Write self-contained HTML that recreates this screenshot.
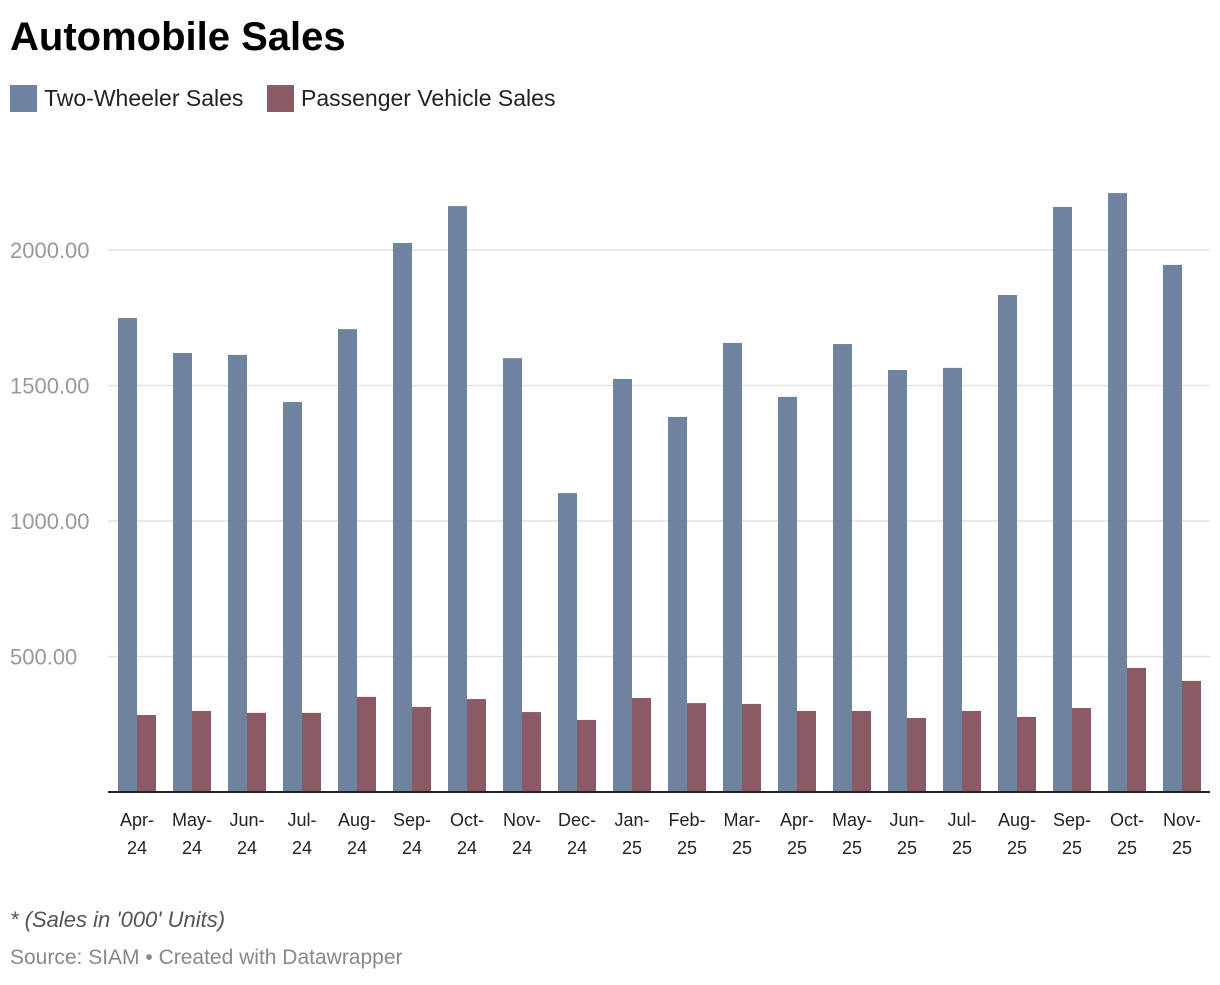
<!DOCTYPE html>
<html><head><meta charset="utf-8"><style>
body{margin:0;background:#fff;font-family:"Liberation Sans",sans-serif;}
svg text{font-family:"Liberation Sans",sans-serif;}
</style></head><body>
<svg width="1220" height="980">
<text x="10" y="50" font-size="40" font-weight="bold" fill="#000">Automobile Sales</text>
<g>
<rect x="10" y="85" width="27" height="27" fill="#6d83a0"/>
<text x="44" y="106" font-size="23" fill="#222">Two-Wheeler Sales</text>
<rect x="267" y="85" width="27" height="27" fill="#8b5a65"/>
<text x="301" y="106" font-size="23" fill="#222">Passenger Vehicle Sales</text>
</g>
<g id="grid"></g><g id="bars"></g><g id="xlab"></g>
<text x="10" y="927" font-size="22" font-style="italic" fill="#555">* (Sales in '000' Units)</text>
<text x="10" y="964" font-size="21" fill="#888">Source: SIAM • Created with Datawrapper</text>
</svg>
<script>
const categories=["Apr-24","May-24","Jun-24","Jul-24","Aug-24","Sep-24","Oct-24","Nov-24","Dec-24","Jan-25","Feb-25","Mar-25","Apr-25","May-25","Jun-25","Jul-25","Aug-25","Sep-25","Oct-25","Nov-25"];
const twoWheeler=[1749,1620,1613,1439,1708,2026,2162,1601,1103,1524,1384,1657,1458,1653,1557,1565,1834,2159,2210,1945];
const passenger=[284,299,292,292,351,314,343,295,266,347,328,325,299,299,273,299,277,310,458,410];
const yTicks=[500,1000,1500,2000];
const NS="http://www.w3.org/2000/svg";
const y0=792, pxPer=135.5/500;
function y(v){return y0-v*pxPer;}
function x(i){return 118+i*55;}
const grid=document.getElementById('grid'),bars=document.getElementById('bars'),xl=document.getElementById('xlab');
function mk(tag,attrs,parent){const e=document.createElementNS(NS,tag);for(const k in attrs)e.setAttribute(k,attrs[k]);parent.appendChild(e);return e;}
yTicks.forEach(t=>{
 const l=mk('line',{x1:108,x2:1210,y1:y(t),y2:y(t),stroke:'#e2e2e2','stroke-width':1.5},grid);
 
 
 const tx=mk('text',{x:10,y:y(t)+8,'font-size':22,fill:'#999'},grid);
 tx.textContent=t.toFixed(2);
 
 
});
categories.forEach((c,i)=>{
 const a=mk('rect',{x:x(i),y:y(twoWheeler[i]),width:19,height:twoWheeler[i]*pxPer,fill:'#6d83a0'},bars);
 
 
 const b=mk('rect',{x:x(i)+19,y:y(passenger[i]),width:19,height:passenger[i]*pxPer,fill:'#8b5a65'},bars);
 
 
 const p=c.split('-');
 const t1=mk('text',{x:x(i)+19,y:826,'font-size':18,fill:'#222','text-anchor':'middle'},xl);
 t1.textContent=p[0]+'-';
 
 
 const t2=mk('text',{x:x(i)+19,y:854,'font-size':18,fill:'#222','text-anchor':'middle'},xl);
 t2.textContent=p[1];
 
 
});
const base=mk('line',{x1:108,x2:1210,y1:y0,y2:y0,stroke:'#222','stroke-width':2},bars);


</script>
</body></html>
